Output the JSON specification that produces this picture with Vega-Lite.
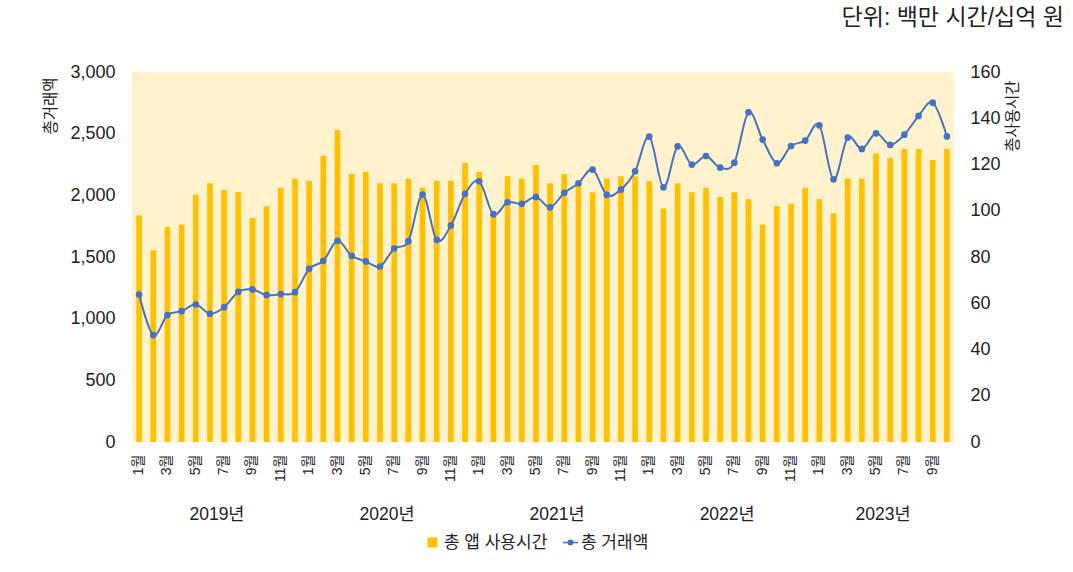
{
  "$schema": "https://vega.github.io/schema/vega-lite/v6.json",
  "width": 822,
  "height": 370,
  "autosize": "none",
  "padding": {"left": 132, "top": 72, "right": 119, "bottom": 130},
  "background": "white",
  "config": {
    "font": "Liberation Sans, Noto Sans CJK KR",
    "view": {"fill": "#FFF2CC", "stroke": null},
    "axis": {"grid": false, "domain": false, "ticks": false, "labelColor": "#222222", "titleColor": "#222222", "titleFontWeight": "normal"},
    "legend": {"labelFontSize": 17, "labelColor": "#222222", "padding": 0, "direction": "horizontal"}
  },
  "title": {"text": "단위: 백만 시간/십억 원", "anchor": "end", "frame": "group", "fontSize": 23, "fontWeight": "normal", "color": "#222222", "dx": 110, "offset": 33},
  "data": {
    "values": [
      {"month": "2019-01", "usage": 98.1, "sales": 1196},
      {"month": "2019-02", "usage": 82.9, "sales": 867},
      {"month": "2019-03", "usage": 93.0, "sales": 1029},
      {"month": "2019-04", "usage": 94.0, "sales": 1061},
      {"month": "2019-05", "usage": 107.0, "sales": 1115},
      {"month": "2019-06", "usage": 111.9, "sales": 1040},
      {"month": "2019-07", "usage": 109.0, "sales": 1093},
      {"month": "2019-08", "usage": 108.0, "sales": 1218},
      {"month": "2019-09", "usage": 96.9, "sales": 1237},
      {"month": "2019-10", "usage": 101.9, "sales": 1191},
      {"month": "2019-11", "usage": 110.0, "sales": 1199},
      {"month": "2019-12", "usage": 113.9, "sales": 1215},
      {"month": "2020-01", "usage": 112.9, "sales": 1404},
      {"month": "2020-02", "usage": 123.8, "sales": 1469},
      {"month": "2020-03", "usage": 134.9, "sales": 1631},
      {"month": "2020-04", "usage": 115.9, "sales": 1510},
      {"month": "2020-05", "usage": 116.9, "sales": 1464},
      {"month": "2020-06", "usage": 111.9, "sales": 1423},
      {"month": "2020-07", "usage": 111.9, "sales": 1569},
      {"month": "2020-08", "usage": 113.9, "sales": 1628},
      {"month": "2020-09", "usage": 110.0, "sales": 2006},
      {"month": "2020-10", "usage": 112.9, "sales": 1639},
      {"month": "2020-11", "usage": 112.9, "sales": 1755},
      {"month": "2020-12", "usage": 120.8, "sales": 2012},
      {"month": "2021-01", "usage": 116.9, "sales": 2114},
      {"month": "2021-02", "usage": 99.8, "sales": 1847},
      {"month": "2021-03", "usage": 114.9, "sales": 1944},
      {"month": "2021-04", "usage": 113.9, "sales": 1931},
      {"month": "2021-05", "usage": 119.8, "sales": 1987},
      {"month": "2021-06", "usage": 111.9, "sales": 1903},
      {"month": "2021-07", "usage": 115.9, "sales": 2020},
      {"month": "2021-08", "usage": 111.9, "sales": 2098},
      {"month": "2021-09", "usage": 108.0, "sales": 2209},
      {"month": "2021-10", "usage": 113.9, "sales": 2004},
      {"month": "2021-11", "usage": 114.9, "sales": 2047},
      {"month": "2021-12", "usage": 114.9, "sales": 2195},
      {"month": "2022-01", "usage": 112.9, "sales": 2476},
      {"month": "2022-02", "usage": 100.9, "sales": 2065},
      {"month": "2022-03", "usage": 111.9, "sales": 2397},
      {"month": "2022-04", "usage": 108.0, "sales": 2249},
      {"month": "2022-05", "usage": 110.0, "sales": 2319},
      {"month": "2022-06", "usage": 106.0, "sales": 2225},
      {"month": "2022-07", "usage": 108.0, "sales": 2265},
      {"month": "2022-08", "usage": 105.0, "sales": 2673},
      {"month": "2022-09", "usage": 94.0, "sales": 2452},
      {"month": "2022-10", "usage": 101.9, "sales": 2260},
      {"month": "2022-11", "usage": 103.0, "sales": 2400},
      {"month": "2022-12", "usage": 110.0, "sales": 2444},
      {"month": "2023-01", "usage": 105.0, "sales": 2568},
      {"month": "2023-02", "usage": 98.9, "sales": 2130},
      {"month": "2023-03", "usage": 113.9, "sales": 2468},
      {"month": "2023-04", "usage": 113.9, "sales": 2376},
      {"month": "2023-05", "usage": 124.8, "sales": 2503},
      {"month": "2023-06", "usage": 122.8, "sales": 2409},
      {"month": "2023-07", "usage": 126.7, "sales": 2492},
      {"month": "2023-08", "usage": 126.7, "sales": 2644},
      {"month": "2023-09", "usage": 122.0, "sales": 2751},
      {"month": "2023-10", "usage": 126.7, "sales": 2478}
    ]
  },
  "layer": [
    {
      "mark": {"type": "bar", "width": {"band": 0.4}},
      "encoding": {
        "x": {
          "field": "month", "type": "ordinal",
          "scale": {"paddingInner": 0, "paddingOuter": 0},
          "axis": {
            "orient": "bottom", "title": null, "labelAngle": -90, "labelFontSize": 14, "labelPadding": 12, "labelOverlap": false,
            "labelExpr": "parseInt(substring(datum.value, 5)) % 2 == 1 ? parseInt(substring(datum.value, 5)) + '월' : ''"
          }
        },
        "y": {
          "field": "usage", "type": "quantitative",
          "scale": {"domain": [0, 160]},
          "axis": {
            "orient": "right", "title": "총사용시간", "values": [0, 20, 40, 60, 80, 100, 120, 140, 160],
            "labelFontSize": 18, "labelPadding": 16, "titleFontSize": 15.5, "titleAngle": -90, "titleAnchor": "end", "titleAlign": "right", "titleY": 8, "titlePadding": 20
          }
        },
        "color": {
          "datum": "총 앱 사용시간", "type": "nominal",
          "scale": {"range": ["#FFC000"]},
          "legend": {"title": null, "orient": "none", "legendX": 292, "legendY": 462, "symbolType": "square", "symbolSize": 100, "symbolStrokeWidth": 0, "labelOffset": 3}
        }
      }
    },
    {
      "mark": {"type": "line", "interpolate": "cardinal", "strokeWidth": 2, "point": {"filled": true, "size": 22, "color": "#4472C4"}},
      "encoding": {
        "x": {
          "field": "month", "type": "ordinal",
          "axis": {
            "orient": "bottom", "title": null, "labelAngle": 0, "labelFontSize": 17.5, "labelPadding": 72, "labelBaseline": "middle", "labelOffset": 7, "labelOverlap": false,
            "labelExpr": "((substring(datum.value, 5) == '06' && substring(datum.value, 0, 4) != '2023') || datum.value == '2023-05') ? substring(datum.value, 0, 4) + '년' : ''"
          }
        },
        "y": {
          "field": "sales", "type": "quantitative",
          "scale": {"domain": [0, 3000]},
          "axis": {
            "orient": "left", "title": "총거래액", "values": [0, 500, 1000, 1500, 2000, 2500, 3000], "format": ",.0f",
            "labelFontSize": 18, "labelPadding": 17, "titleFontSize": 15.5, "titleAngle": -90, "titleAnchor": "end", "titleAlign": "right", "titleY": 5, "titlePadding": 11
          }
        },
        "stroke": {
          "datum": "총 거래액", "type": "nominal",
          "scale": {"range": ["#4472C4"]},
          "legend": {"title": null, "orient": "none", "legendX": 430, "legendY": 462, "symbolType": "M-1,0L1,0M-0.3,0A0.3,0.3,0,1,0,0.3,0A0.3,0.3,0,1,0,-0.3,0", "symbolSize": 225, "symbolStrokeWidth": 1.5, "symbolFillColor": "#4472C4", "labelOffset": 2}
        }
      }
    }
  ],
  "resolve": {"scale": {"y": "independent"}, "axis": {"x": "independent"}}
}
